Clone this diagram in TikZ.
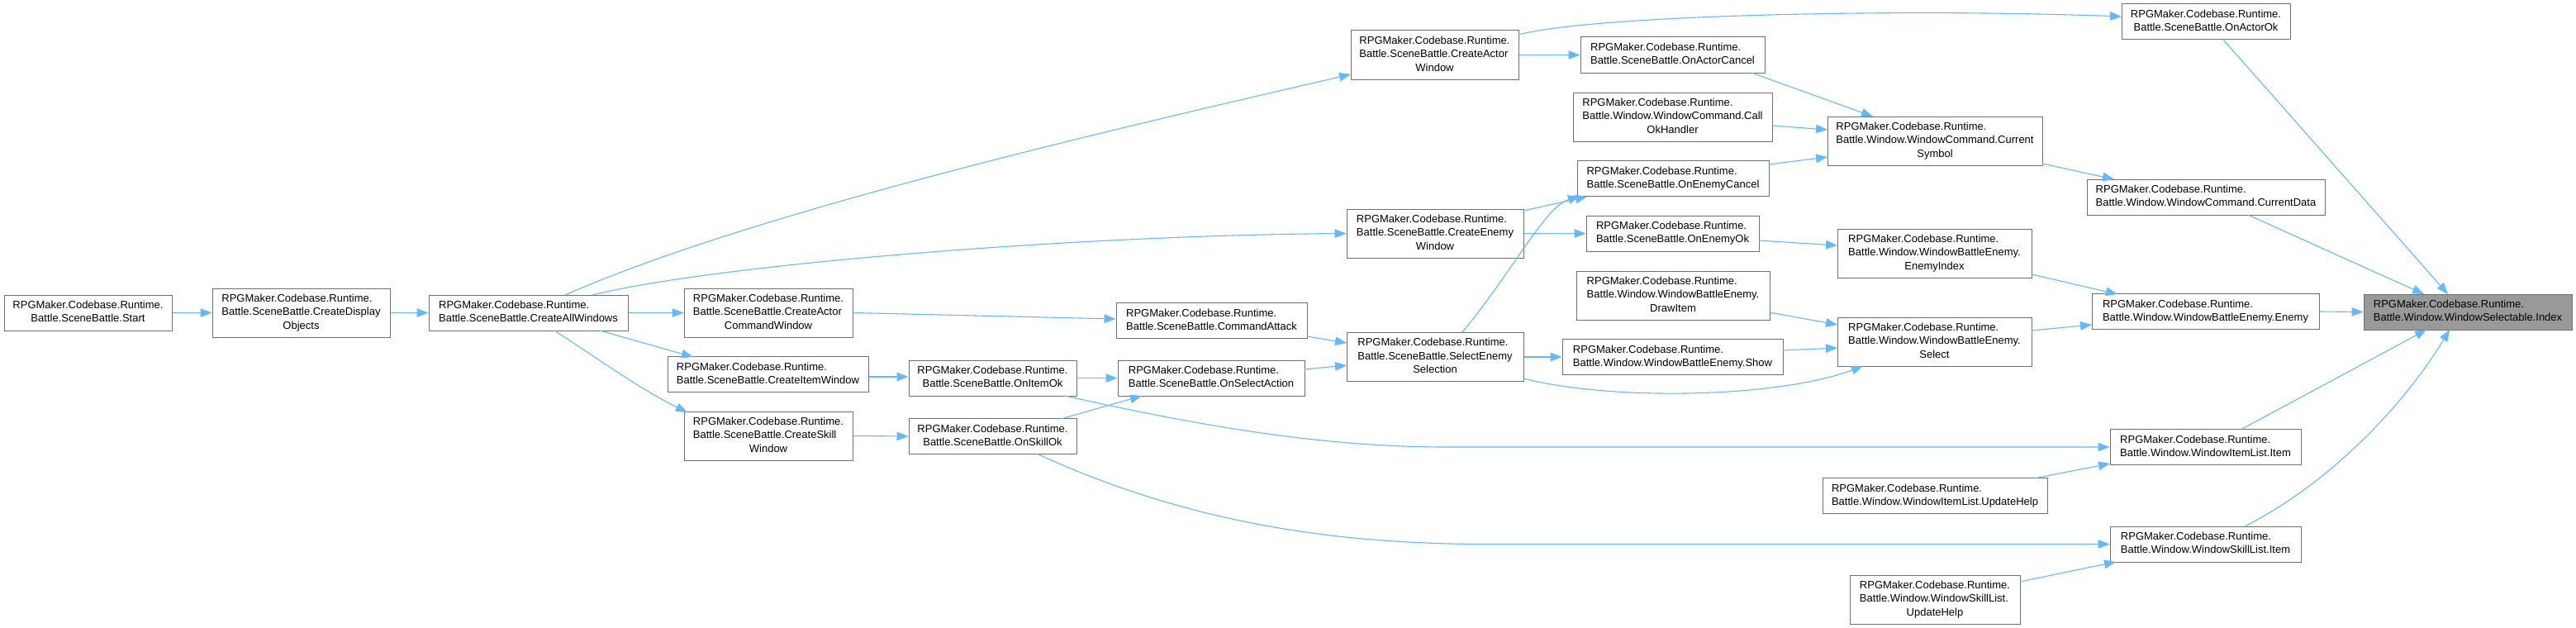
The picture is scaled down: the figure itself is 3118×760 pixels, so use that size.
\documentclass[tikz,border=0pt]{standalone}
\usepackage{fontspec}
\setmainfont{Liberation Sans}
\usetikzlibrary{arrows.meta,calc}
\definecolor{edgeblue}{HTML}{63B8FF}
\definecolor{boxborder}{HTML}{707070}
\definecolor{rootfill}{HTML}{999999}
\newcommand{\RP}{RPGMaker.Codebase.Runtime.}
\newcommand{\twol}[1]{\begin{tabular}{@{}l@{}}\RP\\\multicolumn{1}{@{}c@{}}{#1}\end{tabular}}
\newcommand{\threel}[2]{\begin{tabular}{@{}l@{}}\RP\\#1\\\multicolumn{1}{@{}c@{}}{#2}\end{tabular}}
\tikzset{
  box/.style={draw=boxborder, fill=white, line width=1pt, inner sep=0pt,
    font=\fontsize{13}{16.3}\selectfont, text=black},
  rootbox/.style={box, fill=rootfill},
  call/.style={draw=edgeblue, line width=1.1pt, -{Triangle[length=14pt,width=10.5pt]}}
}
\begin{document}
\begin{tikzpicture}[x=1pt,y=-1pt]
\fill[white] (0,0) rectangle (3118,760);
\useasboundingbox (0,0) rectangle (3118,760);

% nodes
\node[box,minimum width=203pt,minimum height=43pt] (start) at (106.5,378.5) {\twol{Battle.SceneBattle.Start}};
\node[box,minimum width=215pt,minimum height=59pt] (cdo) at (364.5,378.5) {\threel{Battle.SceneBattle.CreateDisplay}{Objects}};
\node[box,minimum width=241pt,minimum height=43pt] (caw) at (639.5,378.5) {\twol{Battle.SceneBattle.CreateAllWindows}};
\node[box,minimum width=204pt,minimum height=59pt] (cacw) at (930,378.5) {\threel{Battle.SceneBattle.CreateActor}{CommandWindow}};
\node[box,minimum width=243pt,minimum height=43pt] (ciw) at (929.5,453) {\twol{Battle.SceneBattle.CreateItemWindow}};
\node[box,minimum width=204pt,minimum height=59pt] (csw) at (930,527.5) {\threel{Battle.SceneBattle.CreateSkill}{Window}};
\node[box,minimum width=203pt,minimum height=59pt] (cactw) at (1736.5,66.5) {\threel{Battle.SceneBattle.CreateActor}{Window}};
\node[box,minimum width=214pt,minimum height=59pt] (cew) at (1737,282.5) {\threel{Battle.SceneBattle.CreateEnemy}{Window}};
\node[box,minimum width=214pt,minimum height=59pt] (ses) at (1737,432) {\threel{Battle.SceneBattle.SelectEnemy}{Selection}};
\node[box,minimum width=231pt,minimum height=43pt] (ca) at (1466.5,388) {\twol{Battle.SceneBattle.CommandAttack}};
\node[box,minimum width=226pt,minimum height=43pt] (osa) at (1466,457.5) {\twol{Battle.SceneBattle.OnSelectAction}};
\node[box,minimum width=203pt,minimum height=43pt] (oio) at (1201.5,457.5) {\twol{Battle.SceneBattle.OnItemOk}};
\node[box,minimum width=203pt,minimum height=43pt] (oso) at (1201.5,528) {\twol{Battle.SceneBattle.OnSkillOk}};
\node[box,minimum width=223pt,minimum height=43pt] (oac) at (2024.5,66.5) {\twol{Battle.SceneBattle.OnActorCancel}};
\node[box,minimum width=241pt,minimum height=59pt] (coh) at (2024.5,141.5) {\threel{Battle.Window.WindowCommand.Call}{OkHandler}};
\node[box,minimum width=232pt,minimum height=43pt] (oec) at (2025,216) {\twol{Battle.SceneBattle.OnEnemyCancel}};
\node[box,minimum width=209pt,minimum height=43pt] (oeo) at (2024.5,282.5) {\twol{Battle.SceneBattle.OnEnemyOk}};
\node[box,minimum width=234pt,minimum height=59pt] (di) at (2025,357.5) {\threel{Battle.Window.WindowBattleEnemy.}{DrawItem}};
\node[box,minimum width=267pt,minimum height=43pt] (show) at (2024.5,432) {\twol{Battle.Window.WindowBattleEnemy.Show}};
\node[box,minimum width=260pt,minimum height=59pt] (cs) at (2342,170.5) {\threel{Battle.Window.WindowCommand.Current}{Symbol}};
\node[box,minimum width=235pt,minimum height=59pt] (ei) at (2341.5,306.5) {\threel{Battle.Window.WindowBattleEnemy.}{EnemyIndex}};
\node[box,minimum width=235pt,minimum height=59pt] (sel) at (2341.5,413.5) {\threel{Battle.Window.WindowBattleEnemy.}{Select}};
\node[box,minimum width=204pt,minimum height=43pt] (oao) at (2670,26.5) {\twol{Battle.SceneBattle.OnActorOk}};
\node[box,minimum width=288pt,minimum height=43pt] (cd) at (2670,238.5) {\twol{Battle.Window.WindowCommand.CurrentData}};
\node[box,minimum width=275pt,minimum height=43pt] (en) at (2669.5,377) {\twol{Battle.Window.WindowBattleEnemy.Enemy}};
\node[box,minimum width=231pt,minimum height=43pt] (ili) at (2669.5,541) {\twol{Battle.Window.WindowItemList.Item}};
\node[box,minimum width=272pt,minimum height=43pt] (iluh) at (2342,600) {\twol{Battle.Window.WindowItemList.UpdateHelp}};
\node[box,minimum width=231pt,minimum height=43pt] (sli) at (2669.5,658.5) {\twol{Battle.Window.WindowSkillList.Item}};
\node[box,minimum width=206pt,minimum height=59pt] (sluh) at (2342,725.5) {\threel{Battle.Window.WindowSkillList.}{UpdateHelp}};
\node[rootbox,minimum width=252pt,minimum height=43pt] (idx) at (2987,377.5) {\twol{Battle.Window.WindowSelectable.Index}};

% edges
\draw[call] (start.east) -- (cdo.west);
\draw[call] (cdo.east) -- (caw.west);
\draw[call] ($(caw)+(44.5,-21.5)$) .. controls (900,262) and (1300,167) .. ($(cactw)+(-101.5,23.5)$);
\draw[call] ($(caw)+(77.5,-21.5)$) .. controls (867,320) and (1300,285) .. (cew.west);
\draw[call] (caw.east) -- (cacw.west);
\draw[call] ($(caw)+(86.5,21.5)$) -- ($(ciw)+(-90.5,-21)$);
\draw[call] ($(caw)+(31.5,21.5)$) .. controls (721,432) and (773,470) .. ($(csw)+(-98,-28.5)$);
\draw[call] (cacw.east) -- ($(ca.west)+(0,-2)$);
\draw[call] ($(ciw.east)+(0,3)$) -- ($(oio.west)+(0,-1.5)$);
\draw[call] (csw.east) -- (oso.west);
\draw[call] (oio.east) -- (osa.west);
\draw[call] ($(oso)+(82.5,-21)$) -- ($(osa)+(-84,21.5)$);
\draw[call] ($(ca)+(115.5,19)$) -- ($(ses)+(-107,-17)$);
\draw[call] ($(osa)+(113,-10.5)$) -- ($(ses)+(-107,10)$);
\draw[call] (cactw.east) -- (oac.west);
\draw[call] ($(cactw)+(101.5,-24.5)$) .. controls (1930,18) and (2300,10) .. ($(oao)+(-102,-6.5)$);
\draw[call] ($(cew)+(107,-27.5)$) -- ($(oec)+(-104,22)$);
\draw[call] (cew.east) -- (oeo.west);
\draw[call] ($(ses)+(33,-30)$) .. controls (1830,330) and (1870,250) .. ($(oec)+(-113,21.5)$);
\draw[call] (ses.east) -- (show.west);
\draw[call] ($(ses)+(107,26)$) .. controls (1950,485) and (2150,482) .. ($(sel)+(-86.5,29.5)$);
\draw[call] ($(oac)+(95.5,21.5)$) -- ($(cs)+(-75,-29.5)$);
\draw[call] ($(coh)+(120.5,10.5)$) -- ($(cs)+(-130,-13.5)$);
\draw[call] ($(oec)+(116,-17)$) -- ($(cs)+(-130,19.5)$);
\draw[call] ($(oeo)+(104.5,8.5)$) -- ($(ei)+(-117.5,-9.5)$);
\draw[call] ($(di)+(117,20.5)$) -- ($(sel)+(-117.5,-20.5)$);
\draw[call] ($(show)+(133.5,-8)$) -- ($(sel)+(-117.5,7.5)$);
\draw[call] ($(cs)+(130,27.5)$) -- ($(cd)+(-111,-21.5)$);
\draw[call] ($(ei)+(117.5,25.5)$) -- ($(en)+(-106.5,-21)$);
\draw[call] ($(sel)+(117.5,-13.5)$) -- ($(en)+(-137.5,16)$);
\draw[call] ($(oao)+(21,21.5)$) -- ($(idx)+(-24,-21.5)$);
\draw[call] ($(cd)+(51,21.5)$) -- ($(idx)+(-53,-21.5)$);
\draw[call] (en.east) -- (idx.west);
\draw[call] ($(ili)+(43.5,-21.5)$) -- ($(idx)+(-50,21.5)$);
\draw[call] ($(sli)+(47.5,-21.5)$) .. controls (2820,585) and (2910,490) .. ($(idx)+(-22,21.5)$);
\draw[call] ($(oio)+(87.5,21.5)$) .. controls (1450,515) and (1600,541) .. (1750,541) -- (ili.west);
\draw[call] ($(iluh)+(122,-21.5)$) -- ($(ili)+(-115.5,20)$);
\draw[call] ($(oso)+(54.5,21.5)$) .. controls (1440,634) and (1620,658.5) .. (1800,658.5) -- (sli.west);
\draw[call] ($(sluh)+(103,-21.5)$) -- ($(sli)+(-108.5,21.5)$);
\end{tikzpicture}
\end{document}
